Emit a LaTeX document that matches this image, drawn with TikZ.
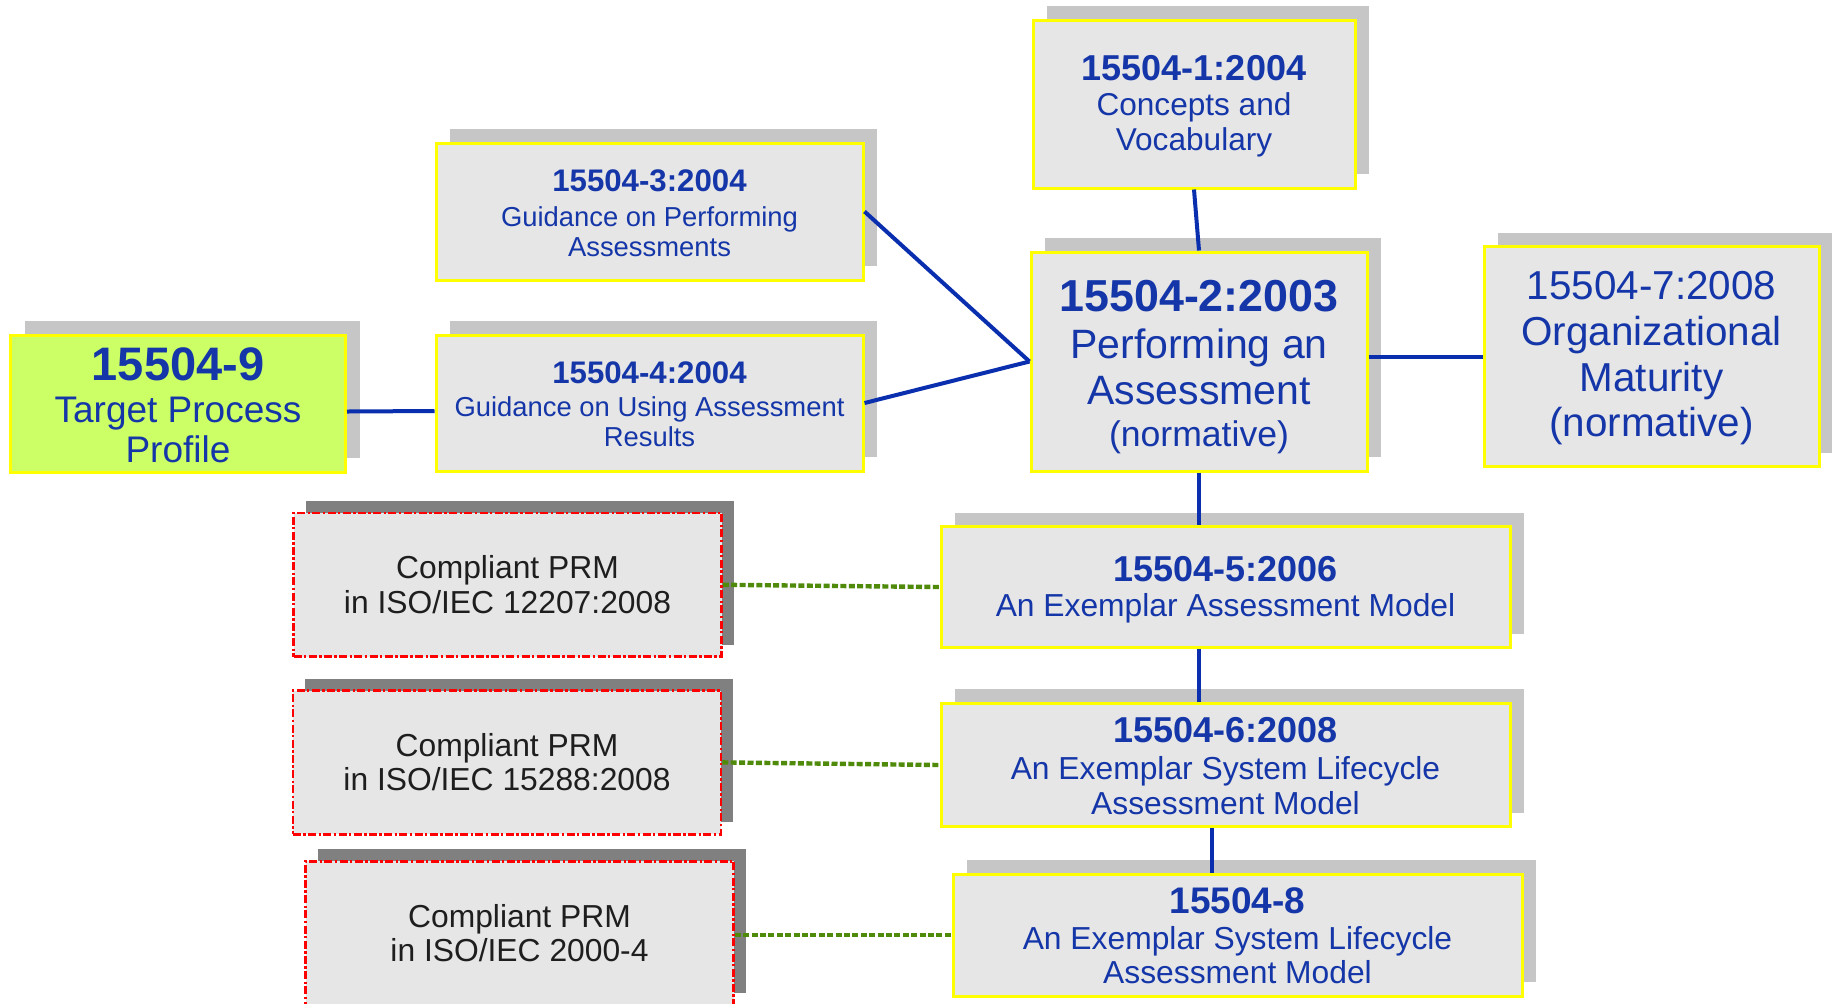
\documentclass[tikz,border=0pt]{standalone}
\usepackage{fontspec}
\setmainfont{Liberation Sans}
\usetikzlibrary{shadows,calc}

\definecolor{isoblue}{HTML}{1436A8}
\definecolor{linkblue}{HTML}{0A2FAE}
\definecolor{boxfill}{HTML}{E6E6E6}
\definecolor{shadelight}{HTML}{C6C6C6}
\definecolor{shadedark}{HTML}{808080}
\definecolor{edgeyellow}{HTML}{FFFF00}
\definecolor{profilegreen}{HTML}{CCFF66}
\definecolor{prmred}{HTML}{FF0000}
\definecolor{mapgreen}{HTML}{4F8A0B}
\definecolor{prmtext}{HTML}{1E1E1E}

% invisible strut that sets the height of a node's first line
\newcommand{\toppad}[1]{\rule{0pt}{#1}}

\begin{document}
\begin{tikzpicture}[x=0.5pt,y=-0.5pt,
  partbox/.style={draw=edgeyellow, line width=1.5pt, fill=boxfill,
    inner sep=0pt, align=center, text=isoblue,
    drop shadow={shadow xshift=7pt, shadow yshift=7pt, fill=shadelight, opacity=1}},
  profilebox/.style={partbox, fill=profilegreen},
  prmbox/.style={draw=prmred, line width=1.3pt,
    dash pattern=on 4pt off 1.2pt on 1.2pt off 1.2pt, fill=boxfill,
    inner sep=0pt, align=center, text=prmtext,
    minimum width=214pt, minimum height=71.8pt,
    font=\fontsize{15.9}{17.2}\selectfont,
    drop shadow={shadow xshift=6pt, shadow yshift=6pt, fill=shadedark, opacity=1}},
  link/.style={draw=linkblue, line width=2pt},
  maplink/.style={draw=mapgreen, line width=2.2pt, dash pattern=on 3pt off 1.2pt}
]
\clip (0,0) rectangle (1832,1003);

% ISO/IEC 15504 parts
\node[partbox, minimum width=161pt, minimum height=84pt,
      font=\fontsize{15.8}{17.5}\selectfont] (p1) at (1194,104)
  {\toppad{14.3pt}{\fontsize{18}{18}\selectfont\bfseries 15504-1:2004}\\
   Concepts and\\ Vocabulary};

\node[partbox, minimum width=213.5pt, minimum height=68.5pt,
      font=\fontsize{13.7}{15}\selectfont] (p3) at (649.5,211.5)
  {\toppad{12.5pt}{\fontsize{15.6}{15.6}\selectfont\bfseries 15504-3:2004}\\[2.3pt]
   Guidance on Performing\\ Assessments};

\node[partbox, minimum width=168pt, minimum height=109.5pt,
      font=\fontsize{20.5}{20.85}\selectfont] (p2) at (1199,361.5)
  {\toppad{21.3pt}{\fontsize{22.4}{22.4}\selectfont\bfseries 15504-2:2003}\\[2.45pt]
   Performing an\\[2.45pt] Assessment\\
   {\fontsize{17.8}{20.85}\selectfont (normative)}};

\node[partbox, minimum width=167.5pt, minimum height=110pt,
      font=\fontsize{20.2}{22.8}\selectfont] (p7) at (1651.5,356.5)
  {\toppad{16pt}15504-7:2008\\ Organizational\\ Maturity\\ (normative)};

\node[profilebox, minimum width=167.5pt, minimum height=68.5pt,
      font=\fontsize{18.5}{19.9}\selectfont] (p9) at (178,403.5)
  {\toppad{18.2pt}{\fontsize{23.5}{23.5}\selectfont\bfseries 15504-9}\\[1.1pt]
   Target Process\\ Profile};

\node[partbox, minimum width=213.5pt, minimum height=68pt,
      font=\fontsize{13.7}{15}\selectfont] (p4) at (649.5,403)
  {\toppad{12.5pt}{\fontsize{15.6}{15.6}\selectfont\bfseries 15504-4:2004}\\[1.6pt]
   Guidance on Using Assessment\\ Results};

\node[partbox, minimum width=284.5pt, minimum height=60.5pt,
      font=\fontsize{15.9}{17.5}\selectfont] (p5) at (1225.5,587)
  {\toppad{15.5pt}{\fontsize{18}{18}\selectfont\bfseries 15504-5:2006}\\
   An Exemplar Assessment Model};

\node[partbox, minimum width=284.5pt, minimum height=61.8pt,
      font=\fontsize{15.9}{17.6}\selectfont] (p6) at (1225.5,765)
  {\toppad{13.6pt}{\fontsize{18}{18}\selectfont\bfseries 15504-6:2008}\\[1.2pt]
   An Exemplar System Lifecycle\\ Assessment Model};

\node[partbox, minimum width=284.5pt, minimum height=61pt,
      font=\fontsize{15.9}{17.3}\selectfont] (p8) at (1237.5,935)
  {\toppad{13.6pt}{\fontsize{18.5}{18.5}\selectfont\bfseries 15504-8}\\[0.8pt]
   An Exemplar System Lifecycle\\ Assessment Model};

% compliant process reference models
\node[prmbox] (prm1) at (507.5,584.8)
  {Compliant PRM\\ in ISO/IEC 12207:2008};
\node[prmbox] (prm2) at (507,762.4)
  {Compliant PRM\\ in ISO/IEC 15288:2008};
\node[prmbox] (prm3) at (519.5,933)
  {Compliant PRM\\ in ISO/IEC 2000-4};

% relations between parts
\draw[link] (p1.south) -- (p2.north);
\draw[link] (p3.east) -- (p2.west);
\draw[link] (p4.east) -- (p2.west);
\draw[link] ([yshift=-4pt]p9.east) -- ([yshift=-4pt]p4.west);
\draw[link] (p2.east |- p7.west) -- (p7.west);
\draw[link] (p2.south) -- (p2.south |- p5.north);
\draw[link] (p5.south -| p2.south) -- (p6.north -| p2.south);
\draw[link] ([xshift=-13pt]p6.south -| p8.north) -- ([xshift=-13pt]p8.north);

% mappings to the process reference models
\draw[maplink] (prm1.east) -- (p5.west);
\draw[maplink] (prm2.east) -- (p6.west);
\draw[maplink] (prm3.east |- p8.west) -- (p8.west);
\end{tikzpicture}
\end{document}
